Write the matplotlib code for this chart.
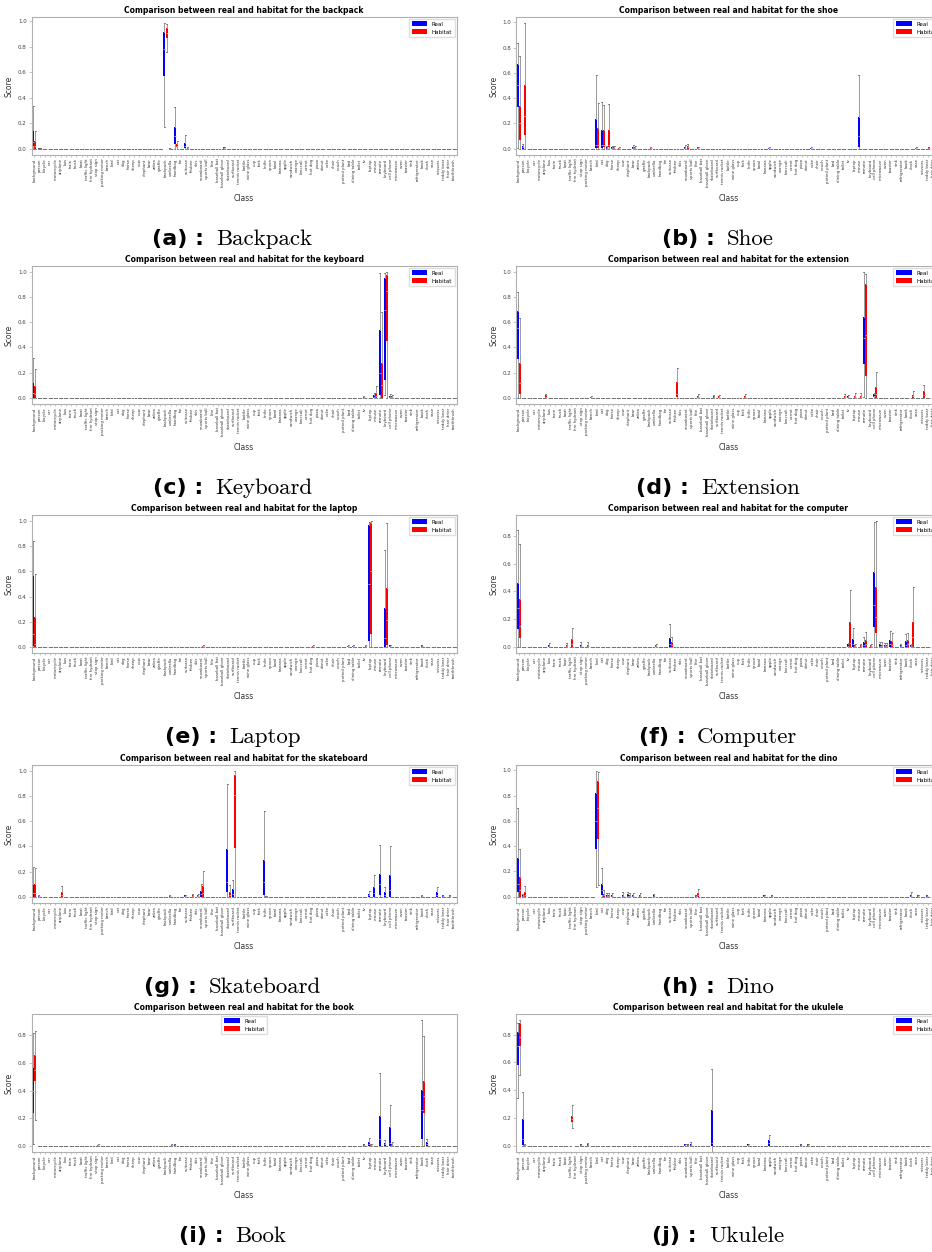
import numpy as np
import matplotlib
matplotlib.use("Agg")
import matplotlib.pyplot as plt
from matplotlib.patches import Patch

classes = ["background", "person", "bicycle", "car", "motorcycle", "airplane", "bus", "train",
           "truck", "boat", "traffic light", "fire hydrant", "stop sign", "parking meter", "bench",
           "bird", "cat", "dog", "horse", "sheep", "cow", "elephant", "bear", "zebra", "giraffe",
           "backpack", "umbrella", "handbag", "tie", "suitcase", "frisbee", "skis", "snowboard",
           "sports ball", "kite", "baseball bat", "baseball glove", "skateboard", "surfboard",
           "tennis racket", "bottle", "wine glass", "cup", "fork", "knife", "spoon", "bowl",
           "banana", "apple", "sandwich", "orange", "broccoli", "carrot", "hot dog", "pizza",
           "donut", "cake", "chair", "couch", "potted plant", "bed", "dining table", "toilet",
           "tv", "laptop", "mouse", "remote", "keyboard", "cell phone", "microwave", "oven",
           "toaster", "sink", "refrigerator", "book", "clock", "vase", "scissors", "teddy bear",
           "hair drier", "toothbrush"]

# box stats per class: (whisker low, q1, median, q3, whisker high); missing classes are 0
backpack_real = {
    "background": (0.0, 0.02, 0.05, 0.144, 0.337),
    "person": (0.0, 0.0, 0.0, 0.005, 0.008),
    "backpack": (0.167, 0.574, 0.78, 0.914, 0.984),
    "umbrella": (0.0, 0.0, 0.002, 0.005, 0.008),
    "handbag": (0.0, 0.036, 0.1, 0.17, 0.326),
    "suitcase": (0.0, 0.005, 0.02, 0.047, 0.11),
}
backpack_habitat = {
    "background": (0.0, 0.0, 0.02, 0.057, 0.136),
    "person": (0.0, 0.0, 0.0, 0.004, 0.006),
    "backpack": (0.762, 0.872, 0.91, 0.945, 0.98),
    "handbag": (0.0, 0.016, 0.025, 0.04, 0.06),
    "suitcase": (0.0, 0.0, 0.002, 0.005, 0.01),
    "baseball glove": (0.0, 0.0, 0.005, 0.01, 0.015),
}
shoe_real = {
    "background": (0.005, 0.328, 0.5, 0.667, 0.837),
    "person": (0.0, 0.0, 0.01, 0.018, 0.04),
    "bird": (0.0, 0.005, 0.03, 0.236, 0.583),
    "cat": (0.0, 0.005, 0.03, 0.15, 0.37),
    "dog": (0.0, 0.0, 0.005, 0.01, 0.02),
    "horse": (0.0, 0.0, 0.005, 0.01, 0.02),
    "bear": (0.0, 0.0, 0.008, 0.015, 0.03),
    "snowboard": (0.0, 0.0, 0.008, 0.015, 0.03),
    "apple": (0.0, 0.0, 0.004, 0.008, 0.015),
    "cake": (0.0, 0.0, 0.004, 0.008, 0.015),
    "mouse": (0.0, 0.01, 0.1, 0.25, 0.583),
    "vase": (0.0, 0.0, 0.004, 0.008, 0.015),
}
shoe_habitat = {
    "background": (0.0, 0.071, 0.2, 0.339, 0.732),
    "person": (0.0, 0.108, 0.255, 0.507, 0.992),
    "bird": (0.0, 0.005, 0.03, 0.163, 0.365),
    "cat": (0.0, 0.01, 0.03, 0.145, 0.344),
    "dog": (0.0, 0.01, 0.03, 0.15, 0.352),
    "horse": (0.0, 0.0, 0.005, 0.01, 0.02),
    "sheep": (0.0, 0.0, 0.003, 0.006, 0.012),
    "bear": (0.0, 0.0, 0.005, 0.01, 0.02),
    "backpack": (0.0, 0.0, 0.003, 0.006, 0.012),
    "snowboard": (0.0, 0.0, 0.01, 0.02, 0.035),
    "kite": (0.0, 0.0, 0.005, 0.01, 0.015),
    "teddy bear": (0.0, 0.0, 0.005, 0.01, 0.015),
    "hair drier": (0.0, 0.0, 0.008, 0.015, 0.025),
}
keyboard_real = {
    "background": (0.0, 0.0, 0.04, 0.127, 0.317),
    "tv": (0.0, 0.0, 0.004, 0.008, 0.012),
    "mouse": (0.0, 0.0, 0.008, 0.02, 0.04),
    "remote": (0.0, 0.02, 0.2, 0.54, 0.99),
    "keyboard": (0.02, 0.14, 0.7, 0.952, 0.995),
    "cell phone": (0.0, 0.0, 0.008, 0.015, 0.03),
}
keyboard_habitat = {
    "background": (0.0, 0.0, 0.03, 0.095, 0.23),
    "mouse": (0.0, 0.0, 0.015, 0.04, 0.095),
    "remote": (0.0, 0.0, 0.1, 0.278, 0.68),
    "keyboard": (0.0, 0.452, 0.85, 0.979, 0.997),
    "cell phone": (0.0, 0.0, 0.005, 0.01, 0.02),
}
extension_real = {
    "background": (0.0, 0.309, 0.55, 0.689, 0.839),
    "bench": (0.0, 0.0, 0.003, 0.006, 0.01),
    "tv": (0.0, 0.0, 0.005, 0.01, 0.02),
    "remote": (0.008, 0.264, 0.47, 0.641, 0.995),
    "cell phone": (0.0, 0.005, 0.015, 0.026, 0.035),
}
extension_habitat = {
    "background": (0.0, 0.026, 0.12, 0.277, 0.633),
    "airplane": (0.0, 0.0, 0.008, 0.02, 0.03),
    "frisbee": (0.0, 0.008, 0.03, 0.121, 0.237),
    "kite": (0.0, 0.0, 0.008, 0.015, 0.03),
    "skateboard": (0.0, 0.0, 0.008, 0.015, 0.025),
    "surfboard": (0.0, 0.0, 0.005, 0.01, 0.025),
    "fork": (0.0, 0.0, 0.008, 0.015, 0.03),
    "toilet": (0.0, 0.0, 0.008, 0.015, 0.03),
    "laptop": (0.0, 0.0, 0.008, 0.015, 0.04),
    "mouse": (0.0, 0.0, 0.008, 0.015, 0.035),
    "remote": (0.0, 0.174, 0.5, 0.905, 0.979),
    "cell phone": (0.0, 0.0, 0.03, 0.087, 0.206),
    "clock": (0.0, 0.0, 0.01, 0.025, 0.055),
    "scissors": (0.0, 0.0, 0.02, 0.05, 0.103),
}
laptop_real = {
    "background": (0.0, 0.005, 0.1, 0.569, 0.839),
    "bed": (0.0, 0.0, 0.004, 0.008, 0.012),
    "dining table": (0.0, 0.0, 0.004, 0.008, 0.012),
    "laptop": (0.0, 0.045, 0.5, 0.968, 0.997),
    "keyboard": (0.0, 0.0, 0.07, 0.31, 0.77),
    "cell phone": (0.0, 0.0, 0.005, 0.01, 0.015),
    "book": (0.0, 0.0, 0.005, 0.01, 0.015),
}
laptop_habitat = {
    "background": (0.0, 0.0, 0.02, 0.233, 0.579),
    "snowboard": (0.0, 0.0, 0.003, 0.006, 0.01),
    "hot dog": (0.0, 0.0, 0.003, 0.006, 0.01),
    "tv": (0.0, 0.0, 0.004, 0.008, 0.012),
    "laptop": (0.0, 0.098, 0.6, 0.984, 1.0),
    "keyboard": (0.0, 0.01, 0.21, 0.468, 0.99),
}
computer_real = {
    "background": (0.0, 0.125, 0.277, 0.46, 0.843),
    "bus": (0.0, 0.0, 0.005, 0.01, 0.025),
    "stop sign": (0.0, 0.0, 0.005, 0.01, 0.035),
    "suitcase": (0.0, 0.0, 0.02, 0.065, 0.164),
    "tv": (0.0, 0.0, 0.008, 0.017, 0.03),
    "laptop": (0.0, 0.0, 0.02, 0.055, 0.133),
    "remote": (0.0, 0.0, 0.015, 0.036, 0.072),
    "cell phone": (0.0, 0.14, 0.3, 0.54, 0.904),
    "microwave": (0.0, 0.0, 0.008, 0.017, 0.035),
    "oven": (0.0, 0.0, 0.008, 0.015, 0.03),
    "toaster": (0.0, 0.0, 0.02, 0.05, 0.116),
    "refrigerator": (0.0, 0.0, 0.005, 0.01, 0.02),
    "book": (0.0, 0.0, 0.015, 0.04, 0.09),
    "clock": (0.0, 0.0, 0.005, 0.01, 0.02),
}
computer_habitat = {
    "background": (0.0, 0.065, 0.15, 0.345, 0.747),
    "boat": (0.0, 0.0, 0.008, 0.015, 0.03),
    "traffic light": (0.0, 0.0, 0.02, 0.053, 0.133),
    "parking meter": (0.0, 0.0, 0.008, 0.015, 0.035),
    "umbrella": (0.0, 0.0, 0.005, 0.01, 0.02),
    "suitcase": (0.0, 0.0, 0.012, 0.031, 0.072),
    "tv": (0.0, 0.0, 0.03, 0.176, 0.412),
    "laptop": (0.0, 0.0, 0.005, 0.01, 0.02),
    "mouse": (0.0, 0.0, 0.005, 0.01, 0.02),
    "remote": (0.0, 0.0, 0.02, 0.046, 0.104),
    "keyboard": (0.0, 0.0, 0.005, 0.01, 0.02),
    "cell phone": (0.0, 0.101, 0.217, 0.431, 0.908),
    "microwave": (0.0, 0.0, 0.008, 0.015, 0.035),
    "oven": (0.0, 0.0, 0.008, 0.015, 0.03),
    "toaster": (0.0, 0.0, 0.015, 0.04, 0.097),
    "book": (0.0, 0.0, 0.02, 0.05, 0.1),
    "clock": (0.0, 0.0, 0.07, 0.181, 0.432),
}
skateboard_real = {
    "background": (0.0, 0.0, 0.03, 0.098, 0.238),
    "person": (0.0, 0.0, 0.003, 0.006, 0.01),
    "umbrella": (0.0, 0.0, 0.003, 0.006, 0.01),
    "suitcase": (0.0, 0.0, 0.005, 0.01, 0.015),
    "snowboard": (0.0, 0.0, 0.02, 0.048, 0.098),
    "skateboard": (0.0, 0.034, 0.12, 0.378, 0.894),
    "surfboard": (0.0, 0.0, 0.02, 0.058, 0.135),
    "knife": (0.0, 0.013, 0.12, 0.288, 0.683),
    "laptop": (0.0, 0.0, 0.01, 0.024, 0.045),
    "mouse": (0.0, 0.0, 0.03, 0.077, 0.175),
    "remote": (0.0, 0.013, 0.1, 0.177, 0.413),
    "keyboard": (0.0, 0.0, 0.015, 0.04, 0.077),
    "cell phone": (0.0, 0.0, 0.05, 0.172, 0.405),
    "book": (0.0, 0.0, 0.003, 0.006, 0.01),
    "scissors": (0.0, 0.0, 0.015, 0.034, 0.077),
    "teddy bear": (0.0, 0.0, 0.005, 0.01, 0.015),
}
skateboard_habitat = {
    "background": (0.0, 0.0, 0.03, 0.098, 0.23),
    "airplane": (0.0, 0.0, 0.015, 0.04, 0.087),
    "frisbee": (0.0, 0.0, 0.008, 0.015, 0.02),
    "skis": (0.0, 0.0, 0.008, 0.015, 0.025),
    "snowboard": (0.0, 0.0, 0.03, 0.087, 0.206),
    "skateboard": (0.0, 0.0, 0.015, 0.04, 0.093),
    "surfboard": (0.0, 0.384, 0.807, 0.971, 0.997),
    "knife": (0.0, 0.0, 0.003, 0.005, 0.008),
    "hair drier": (0.0, 0.0, 0.005, 0.01, 0.015),
}
dino_real = {
    "background": (0.0, 0.039, 0.1, 0.308, 0.703),
    "person": (0.0, 0.0, 0.005, 0.01, 0.02),
    "bird": (0.074, 0.374, 0.6, 0.821, 0.992),
    "cat": (0.0, 0.013, 0.05, 0.1, 0.229),
    "dog": (0.0, 0.0, 0.005, 0.01, 0.03),
    "horse": (0.0, 0.0, 0.008, 0.015, 0.03),
    "cow": (0.0, 0.0, 0.008, 0.015, 0.035),
    "elephant": (0.0, 0.0, 0.008, 0.02, 0.035),
    "bear": (0.0, 0.0, 0.008, 0.015, 0.03),
    "umbrella": (0.0, 0.0, 0.008, 0.015, 0.02),
    "kite": (0.0, 0.0, 0.005, 0.01, 0.015),
    "banana": (0.0, 0.0, 0.005, 0.01, 0.015),
    "clock": (0.0, 0.0, 0.008, 0.015, 0.035),
    "teddy bear": (0.0, 0.0, 0.005, 0.01, 0.015),
}
dino_habitat = {
    "background": (0.0, 0.0, 0.05, 0.158, 0.376),
    "person": (0.0, 0.0, 0.015, 0.04, 0.084),
    "bird": (0.092, 0.46, 0.7, 0.916, 0.987),
    "cat": (0.0, 0.0, 0.01, 0.024, 0.053),
    "dog": (0.0, 0.0, 0.008, 0.015, 0.03),
    "elephant": (0.0, 0.0, 0.008, 0.015, 0.03),
    "zebra": (0.0, 0.0, 0.008, 0.015, 0.03),
    "kite": (0.0, 0.0, 0.012, 0.029, 0.06),
    "apple": (0.0, 0.0, 0.005, 0.01, 0.015),
    "vase": (0.0, 0.0, 0.005, 0.01, 0.015),
    "hair drier": (0.0, 0.0, 0.005, 0.01, 0.015),
}
book_real = {
    "background": (0.015, 0.24, 0.4, 0.567, 0.817),
    "handbag": (0.0, 0.0, 0.005, 0.01, 0.015),
    "tv": (0.0, 0.0, 0.005, 0.01, 0.015),
    "laptop": (0.0, 0.0, 0.012, 0.028, 0.055),
    "remote": (0.0, 0.0, 0.05, 0.216, 0.529),
    "keyboard": (0.0, 0.0, 0.01, 0.02, 0.04),
    "cell phone": (0.0, 0.0, 0.02, 0.135, 0.296),
    "book": (0.0, 0.048, 0.26, 0.404, 0.909),
    "clock": (0.0, 0.0, 0.01, 0.025, 0.05),
}
book_habitat = {
    "background": (0.183, 0.469, 0.55, 0.661, 0.832),
    "stop sign": (0.0, 0.0, 0.003, 0.006, 0.01),
    "umbrella": (0.0, 0.0, 0.004, 0.008, 0.012),
    "laptop": (0.0, 0.0, 0.005, 0.01, 0.015),
    "cell phone": (0.0, 0.0, 0.008, 0.015, 0.03),
    "book": (0.0, 0.236, 0.36, 0.469, 0.796),
}
ukulele_real = {
    "background": (0.344, 0.58, 0.716, 0.817, 0.885),
    "person": (0.0, 0.005, 0.05, 0.19, 0.39),
    "stop sign": (0.0, 0.0, 0.005, 0.01, 0.015),
    "snowboard": (0.0, 0.0, 0.005, 0.01, 0.015),
    "sports ball": (0.0, 0.0, 0.008, 0.015, 0.025),
    "skateboard": (-0.045, 0.0, 0.02, 0.255, 0.553),
    "knife": (0.0, 0.0, 0.005, 0.01, 0.015),
    "apple": (0.0, 0.0, 0.02, 0.043, 0.08),
    "pizza": (0.0, 0.0, 0.005, 0.01, 0.015),
}
ukulele_habitat = {
    "background": (0.512, 0.716, 0.78, 0.885, 0.904),
    "person": (0.0, 0.0, 0.003, 0.006, 0.01),
    "traffic light": (0.125, 0.168, 0.19, 0.216, 0.29),
    "parking meter": (0.0, 0.0, 0.008, 0.015, 0.02),
    "snowboard": (0.0, 0.0, 0.005, 0.01, 0.015),
    "donut": (0.0, 0.0, 0.005, 0.01, 0.015),
}

panels = [
    ("a", "backpack", "Backpack", backpack_real, backpack_habitat, "upper right"),
    ("b", "shoe", "Shoe", shoe_real, shoe_habitat, "upper right"),
    ("c", "keyboard", "Keyboard", keyboard_real, keyboard_habitat, "upper right"),
    ("d", "extension", "Extension", extension_real, extension_habitat, "upper right"),
    ("e", "laptop", "Laptop", laptop_real, laptop_habitat, "upper right"),
    ("f", "computer", "Computer", computer_real, computer_habitat, "upper right"),
    ("g", "skateboard", "Skateboard", skateboard_real, skateboard_habitat, "upper right"),
    ("h", "dino", "Dino", dino_real, dino_habitat, "upper right"),
    ("i", "book", "Book", book_real, book_habitat, "upper center"),
    ("j", "ukulele", "Ukulele", ukulele_real, ukulele_habitat, "upper right"),
]


def to_stats(d):
    out = []
    for c in classes:
        lo, q1, med, q3, hi = d.get(c, (0.0, 0.0, 0.0, 0.0, 0.0))
        out.append(dict(whislo=lo, q1=q1, med=med, q3=q3, whishi=hi, fliers=[]))
    return out


W, H = 932, 1252
fig = plt.figure(figsize=(W / 100, H / 100), dpi=100)
renderer = fig.canvas.get_renderer()

col_left = [31.7, 516]
row_off = [0, 249, 498, 748, 997]
cap_cx = [232.5, 718]
ax_w, ax_h, ax_top = 425, 138, 17

x = np.arange(len(classes))
for k, (tag, obj, name, real, hab, loc) in enumerate(panels):
    row, col = k // 2, k % 2
    top = ax_top + row_off[row]
    ax = fig.add_axes([col_left[col] / W, 1 - (top + ax_h) / H, ax_w / W, ax_h / H])
    for d, color, off in ((real, "#0000ff", -0.2), (hab, "#ff0000", 0.2)):
        art = ax.bxp(to_stats(d), positions=x + off, widths=0.38, patch_artist=True,
                     showfliers=False, manage_ticks=False,
                     boxprops=dict(facecolor=color, edgecolor=color, linewidth=0),
                     whiskerprops=dict(color="#9a9a9a", linewidth=0.7),
                     capprops=dict(color="#707070", linewidth=0.6),
                     medianprops=dict(color="#b8b8b8", linewidth=0.6))
        for m in art["medians"]:
            m.set_zorder(2.05)
        for c in art["caps"]:
            c.set_zorder(2.1)

    hi = max(max(v[4] for v in real.values()), max(v[4] for v in hab.values()))
    ax.set_xlim(-0.5, len(classes) - 0.5)
    ax.set_ylim(-0.05 * hi, 1.05 * hi)
    ax.set_yticks(np.arange(0, 1.05 * hi, 0.2))
    ax.set_xticks(x)
    ax.set_xticklabels(classes, rotation=90, fontsize=2.8, color="#333333")
    ax.tick_params(axis="x", length=1.5, width=0.4, pad=1, color="#999999")
    ax.tick_params(axis="y", labelsize=4, length=2, width=0.4, pad=1.5,
                   color="#999999", labelcolor="#444444")
    for s in ax.spines.values():
        s.set_color("#b0b0b0")
        s.set_linewidth(0.8)
    ax.set_title(f"Comparison between real and habitat for the {obj}",
                 fontsize=5.5, fontweight="bold", pad=3)
    ax.set_ylabel("Score", fontsize=5.5, color="#333333", labelpad=3)
    ax.set_xlabel("Class", fontsize=5.5, color="#333333", labelpad=5)
    ax.legend(handles=[Patch(facecolor="#0000ff", label="Real"),
                       Patch(facecolor="#ff0000", label="Habitat")],
              loc=loc, fontsize=4, handlelength=2.8, handleheight=0.9,
              borderpad=0.5, labelspacing=0.5, borderaxespad=0.3,
              edgecolor="#dddddd", fancybox=False, framealpha=1)

    # caption under each panel: bold tag + serif name
    base = 245 + row_off[row]
    t1 = fig.text(0, 1 - base / H, f"({tag}) :", fontsize=16, fontweight="bold",
                  family="DejaVu Sans", va="baseline")
    t2 = fig.text(0, 1 - base / H, name, fontsize=16.5, family="cmr10", va="baseline")
    w1 = t1.get_window_extent(renderer).width
    w2 = t2.get_window_extent(renderer).width
    gap = 12
    x0 = cap_cx[col] - (w1 + gap + w2) / 2
    t1.set_x(x0 / W)
    t2.set_x((x0 + w1 + gap) / W)

fig.savefig("out.png", dpi=100)
